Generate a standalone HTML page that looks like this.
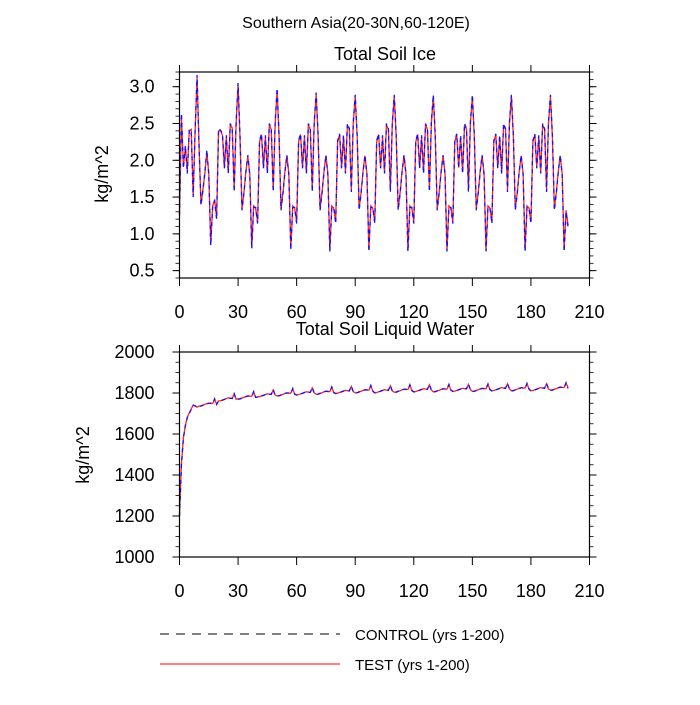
<!DOCTYPE html>
<html><head><meta charset="utf-8"><style>
body{margin:0;background:#fff;width:700px;height:700px;overflow:hidden}
svg{font-family:"Liberation Sans",Arial,sans-serif}
</style></head><body>
<svg id="chart" width="700" height="700" xmlns="http://www.w3.org/2000/svg">
<text x="356" y="28" font-size="16" text-anchor="middle">Southern Asia(20-30N,60-120E)</text>
<text x="385" y="60" font-size="18" text-anchor="middle">Total Soil Ice</text>
<text x="385" y="335" font-size="18" text-anchor="middle">Total Soil Liquid Water</text>
<text transform="translate(108,174) rotate(-90)" font-size="18" text-anchor="middle">kg/m^2</text>
<text transform="translate(89,455) rotate(-90)" font-size="18" text-anchor="middle">kg/m^2</text>
<g id="p1"></g>
<g id="p2"></g>
<line x1="160" y1="634" x2="340" y2="634" stroke="#000" stroke-width="1" stroke-dasharray="9,7"/>
<text x="355" y="640" font-size="15">CONTROL (yrs 1-200)</text>
<line x1="160" y1="664" x2="340" y2="664" stroke="#f00" stroke-width="1"/>
<text x="355" y="670" font-size="15">TEST (yrs 1-200)</text>
</svg>
<script>
const xTicks=[0,30,60,90,120,150,180,210];
const iceTicks=[0.5,1.0,1.5,2.0,2.5,3.0];
const iceTickLabels=["0.5","1.0","1.5","2.0","2.5","3.0"];
const liqTicks=[1000,1200,1400,1600,1800,2000];
const liqTickLabels=["1000","1200","1400","1600","1800","2000"];
const iceControl=[1.25,2.64,1.89,2.2,1.82,2.41,2.41,1.5,2.41,3.16,2.2,1.39,1.59,1.84,2.14,1.8,0.84,1.39,1.45,1.2,2.43,
2.41,2.36,1.89,2.34,1.82,2.5,2.43,1.57,2.52,3.05,2.34,1.32,1.55,1.84,2.07,1.8,0.8,1.36,1.36,1.14,
2.27,2.36,1.89,2.34,1.82,2.5,2.43,1.57,2.52,2.98,2.34,1.32,1.55,1.84,2.07,1.8,0.78,1.36,1.36,1.14,
2.27,2.36,1.89,2.34,1.82,2.5,2.43,1.57,2.52,2.92,2.34,1.32,1.55,1.84,2.07,1.8,0.76,1.36,1.36,1.14,
2.27,2.36,1.89,2.34,1.82,2.5,2.43,1.57,2.52,2.89,2.34,1.32,1.55,1.84,2.07,1.8,0.76,1.36,1.36,1.14,
2.27,2.36,1.89,2.34,1.82,2.5,2.43,1.57,2.52,2.89,2.34,1.32,1.55,1.84,2.07,1.8,0.76,1.36,1.36,1.14,
2.27,2.36,1.89,2.34,1.82,2.5,2.43,1.57,2.52,2.89,2.34,1.32,1.55,1.84,2.07,1.8,0.76,1.36,1.36,1.14,
2.27,2.36,1.89,2.34,1.82,2.5,2.43,1.57,2.52,2.89,2.34,1.32,1.55,1.84,2.07,1.8,0.76,1.36,1.36,1.14,
2.27,2.36,1.89,2.34,1.82,2.5,2.43,1.57,2.52,2.89,2.34,1.32,1.55,1.84,2.07,1.8,0.76,1.36,1.36,1.14,
2.27,2.36,1.89,2.34,1.82,2.5,2.43,1.57,2.52,2.89,2.34,1.32,1.55,1.84,2.07,1.8,0.76,1.3,1.1];
const iceTest=[1.27,2.6,1.92,2.18,1.85,2.4,2.42,1.52,2.4,3.12,2.22,1.4,1.6,1.82,2.12,1.82,0.86,1.38,1.46,1.22,2.4,
2.4,2.34,1.9,2.32,1.84,2.48,2.44,1.6,2.5,3.02,2.3,1.34,1.56,1.85,2.05,1.82,0.82,1.38,1.35,1.16,
2.25,2.35,1.9,2.32,1.84,2.48,2.42,1.6,2.5,2.95,2.32,1.34,1.56,1.85,2.06,1.82,0.8,1.38,1.35,1.16,
2.25,2.35,1.9,2.32,1.84,2.48,2.42,1.6,2.5,2.9,2.32,1.34,1.56,1.85,2.06,1.82,0.78,1.38,1.35,1.16,
2.25,2.35,1.9,2.32,1.84,2.48,2.42,1.6,2.5,2.87,2.32,1.34,1.56,1.85,2.06,1.82,0.78,1.38,1.35,1.16,
2.25,2.35,1.9,2.32,1.84,2.48,2.42,1.6,2.5,2.87,2.32,1.34,1.56,1.85,2.06,1.82,0.78,1.38,1.35,1.16,
2.25,2.35,1.9,2.32,1.84,2.48,2.42,1.6,2.5,2.87,2.32,1.34,1.56,1.85,2.06,1.82,0.78,1.38,1.35,1.16,
2.25,2.35,1.9,2.32,1.84,2.48,2.42,1.6,2.5,2.87,2.32,1.34,1.56,1.85,2.06,1.82,0.78,1.38,1.35,1.16,
2.25,2.35,1.9,2.32,1.84,2.48,2.42,1.6,2.5,2.87,2.32,1.34,1.56,1.85,2.06,1.82,0.78,1.38,1.35,1.16,
2.25,2.35,1.9,2.32,1.84,2.48,2.42,1.6,2.5,2.87,2.32,1.34,1.56,1.85,2.06,1.82,0.78,1.32,1.12];
const liqControl=[1200,1450,1580,1640,1680,1700,1720,1740,1738,1730,
1735,1736,1740,1744,1747,1750,1750,1748,1772,1744,
1760,1761,1765,1769,1772,1775,1775,1773,1797,1769,
1770,1771,1775,1779,1782,1785,1785,1783,1807,1779,
1780,1781,1785,1789,1792,1795,1795,1793,1817,1789,
1785,1786,1790,1794,1797,1800,1800,1798,1822,1794,
1790,1791,1795,1799,1802,1805,1805,1803,1827,1799,
1793,1794,1798,1802,1805,1808,1808,1806,1830,1802,
1797,1798,1802,1806,1809,1812,1812,1810,1834,1806,
1800,1801,1805,1809,1812,1815,1815,1813,1837,1809,
1800,1801,1805,1809,1812,1815,1815,1813,1837,1809,
1803,1804,1808,1812,1815,1818,1818,1816,1840,1812,
1805,1806,1810,1814,1817,1820,1820,1818,1842,1814,
1805,1806,1810,1814,1817,1820,1820,1818,1842,1814,
1807,1808,1812,1816,1819,1822,1822,1820,1844,1816,
1807,1808,1812,1816,1819,1822,1822,1820,1844,1816,
1810,1811,1815,1819,1822,1825,1825,1823,1847,1819,
1810,1811,1815,1819,1822,1825,1825,1823,1847,1819,
1810,1811,1815,1819,1822,1825,1825,1823,1847,1819,
1813,1814,1818,1822,1825,1828,1828,1826,1850,1822];
const liqTest=[1200,1455,1582,1642,1682,1702,1722,1741,1737,1731,
1736,1737,1741,1745,1748,1751,1749,1749,1770,1745,
1761,1762,1766,1768,1773,1776,1774,1774,1795,1770,
1771,1772,1776,1778,1783,1786,1784,1784,1805,1780,
1781,1782,1786,1788,1793,1796,1794,1794,1815,1790,
1786,1787,1791,1793,1798,1801,1799,1799,1820,1795,
1791,1792,1796,1798,1803,1806,1804,1804,1825,1800,
1794,1795,1799,1801,1806,1809,1807,1807,1828,1803,
1798,1799,1803,1805,1810,1813,1811,1811,1832,1807,
1801,1802,1806,1808,1813,1816,1814,1814,1835,1810,
1801,1802,1806,1808,1813,1816,1814,1814,1835,1810,
1804,1805,1809,1811,1816,1819,1817,1817,1838,1813,
1806,1807,1811,1813,1818,1821,1819,1819,1840,1815,
1806,1807,1811,1813,1818,1821,1819,1819,1840,1815,
1808,1809,1813,1815,1820,1823,1821,1821,1842,1817,
1808,1809,1813,1815,1820,1823,1821,1821,1842,1817,
1811,1812,1816,1818,1823,1826,1824,1824,1845,1820,
1811,1812,1816,1818,1823,1826,1824,1824,1845,1820,
1811,1812,1816,1818,1823,1826,1824,1824,1845,1820,
1814,1815,1819,1821,1826,1829,1827,1827,1848,1826];

const NS="http://www.w3.org/2000/svg";
function mk(parent,tag,attrs){const e=document.createElementNS(NS,tag);for(const k in attrs)e.setAttribute(k,attrs[k]);parent.appendChild(e);return e;}

function panel(g,cfg){
  const L=179.5,R=589.5,T=cfg.top,B=cfg.bottom;
  const xs=v=>L+(v-0)/(210-0)*(R-L);
  const ys=v=>B-(v-cfg.ymin)/(cfg.ymax-cfg.ymin)*(B-T);
  const mkPath=(arr)=>arr.map((v,i)=>(i?'L':'M')+xs(i).toFixed(2)+' '+ys(v).toFixed(2)).join(' ');
  const pt=mk(g,'path',{d:mkPath(cfg.test),fill:'none',stroke:'#ff2020','stroke-width':1.3});
  
  
  const pc=mk(g,'path',{d:mkPath(cfg.control),fill:'none',stroke:'#1010ff','stroke-width':1.3,'stroke-dasharray':'4,4'});
  
  
  const fr=mk(g,'rect',{x:L,y:T,width:R-L,height:B-T,fill:'none',stroke:'#000','stroke-width':1.2});
  
  
  xTicks.forEach(t=>{
    const x=xs(t);
    mk(g,'line',{x1:x,y1:B,x2:x,y2:B+8,stroke:'#000','stroke-width':1});
    mk(g,'line',{x1:x,y1:T,x2:x,y2:T-7,stroke:'#000','stroke-width':1});
    const tx=mk(g,'text',{x:x,y:B+40,'font-size':18,'text-anchor':'middle'});
    tx.textContent=String(t);
    
    
  });
  for(let v=cfg.ymin;v<=cfg.ymax+1e-9;v+=cfg.minor){
    const y=ys(v);
    mk(g,'line',{x1:L,y1:y,x2:L-4,y2:y,stroke:'#000','stroke-width':0.8});
    mk(g,'line',{x1:R,y1:y,x2:R+4,y2:y,stroke:'#000','stroke-width':0.8});
  }
  cfg.ticks.forEach((t,i)=>{
    const y=ys(t);
    mk(g,'line',{x1:L,y1:y,x2:L-7,y2:y,stroke:'#000','stroke-width':1});
    mk(g,'line',{x1:R,y1:y,x2:R+7,y2:y,stroke:'#000','stroke-width':1});
    const tx=mk(g,'text',{x:L-25,y:y+6,'font-size':18,'text-anchor':'end'});
    tx.textContent=cfg.labels[i];
    
    
  });
}
panel(document.getElementById('p1'),{name:'ice',top:72,bottom:278,ymin:0.4,ymax:3.2,minor:0.1,ticks:iceTicks,labels:iceTickLabels,control:iceControl,test:iceTest});
panel(document.getElementById('p2'),{name:'liquid',top:352,bottom:557,ymin:1000,ymax:2000,minor:50,ticks:liqTicks,labels:liqTickLabels,control:liqControl,test:liqTest});
</script>
</body></html>
